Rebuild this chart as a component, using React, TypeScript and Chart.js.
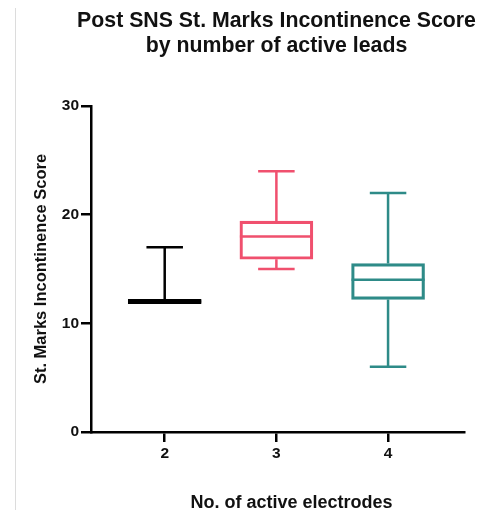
import React, { useEffect, useRef } from "react";
import { Chart, registerables } from "chart.js";

Chart.register(...registerables);

const titleLines = ["Post SNS St. Marks Incontinence Score", "by number of active leads"];
const xAxisTitle = "No. of active electrodes";
const yAxisTitle = "St. Marks Incontinence Score";
const categories = ["2", "3", "4"];
const mins = [12, 15, 6];
const q1s = [11.8, 15.9, 12.2];
const medians = [12, 18, 14];
const q3s = [12.2, 19.4, 15.5];
const maxs = [17, 24, 22];
const yTicks = [0, 10, 20, 30];
const colors = ["#000000", "#F0506E", "#2E8B88"];

const FONT = '"Liberation Sans", Arial, sans-serif';

const boxPlotPlugin = {
  id: "boxWhiskers",
  afterDatasetsDraw(chart: any) {
    const meta = chart.getDatasetMeta(0);
    const y = chart.scales.y;
    const ctx = chart.ctx;
    ctx.save();
    ctx.lineWidth = 2.5;
    ctx.lineCap = "butt";
    meta.data.forEach((el: any, i: number) => {
      const cx = el.x;
      const w = el.width;
      ctx.strokeStyle = colors[i];
      const pMax = y.getPixelForValue(maxs[i]);
      const pMin = y.getPixelForValue(mins[i]);
      const pQ1 = y.getPixelForValue(q1s[i]);
      const pQ3 = y.getPixelForValue(q3s[i]);
      const pMed = y.getPixelForValue(medians[i]);
      ctx.beginPath();
      if (maxs[i] > q3s[i]) {
        ctx.moveTo(cx, pQ3);
        ctx.lineTo(cx, pMax);
        ctx.moveTo(cx - w / 4, pMax);
        ctx.lineTo(cx + w / 4, pMax);
      }
      if (mins[i] < q1s[i] && medians[i] !== mins[i]) {
        ctx.moveTo(cx, pQ1);
        ctx.lineTo(cx, pMin);
        ctx.moveTo(cx - w / 4, pMin);
        ctx.lineTo(cx + w / 4, pMin);
      }
      ctx.moveTo(cx - w / 2, pMed);
      ctx.lineTo(cx + w / 2, pMed);
      ctx.stroke();
    });
    ctx.restore();
  },
  afterDraw(chart: any) {
    const ctx = chart.ctx;
    const area = chart.chartArea;
    ctx.save();
    ctx.strokeStyle = "#dcdcdc";
    ctx.lineWidth = 1;
    ctx.beginPath();
    ctx.moveTo(15.5, 8);
    ctx.lineTo(15.5, 510);
    ctx.stroke();
    ctx.fillStyle = "#111111";
    ctx.textAlign = "center";
    ctx.textBaseline = "middle";
    ctx.font = `bold 21.3px ${FONT}`;
    const cx = (area.left + area.right) / 2 - 1;
    ctx.fillText(titleLines[0], cx, 21);
    ctx.fillText(titleLines[1], cx, 46);
    ctx.font = `bold 18px ${FONT}`;
    ctx.fillText(xAxisTitle, cx + 15, 503);
    ctx.restore();
  },
};

export default function App() {
  const ref = useRef<HTMLCanvasElement>(null);
  useEffect(() => {
    if (!ref.current) return;
    const chart = new Chart(ref.current, {
      type: "bar",
      data: {
        datasets: [
          {
            data: categories.map((c, i) => ({ x: Number(c), y: [q1s[i], q3s[i]] })) as any,
            backgroundColor: "rgba(0,0,0,0)",
            borderColor: colors,
            borderWidth: 2.5,
            borderSkipped: false,
            barThickness: 73,
          },
        ],
      },
      options: {
        animation: false,
        responsive: true,
        maintainAspectRatio: false,
        layout: { padding: { top: 106, right: 18, left: 0, bottom: 0 } },
        plugins: { legend: { display: false }, tooltip: { enabled: false }, title: { display: false } },
        scales: {
          x: {
            type: "linear",
            offset: false,
            min: 1.34,
            max: 4.68,
            afterBuildTicks: (axis: any) => {
              axis.ticks = categories.map((c) => ({ value: Number(c) }));
            },
            afterFit: (scale: any) => {
              scale.height = 86;
            },
            ticks: {
              color: "#111",
              font: { family: FONT, size: 15.5, weight: "bold" },
              padding: 2,
              callback: (v: any) => String(v),
            },
            grid: { display: true, offset: false, drawOnChartArea: false, drawTicks: true, tickLength: 10, lineWidth: 2.5, color: "#000" },
            border: { display: true, width: 2.5, color: "#000" },
            title: { display: false },
          },
          y: {
            min: 0,
            max: 30,
            afterBuildTicks: (axis: any) => {
              axis.ticks = yTicks.map((v) => ({ value: v }));
            },
            afterFit: (scale: any) => {
              scale.width = 91;
            },
            ticks: {
              color: "#111",
              font: { family: FONT, size: 15.5, weight: "bold" },
              padding: 2,
            },
            grid: { display: true, drawOnChartArea: false, drawTicks: true, tickLength: 10, lineWidth: 2.5, color: "#000" },
            border: { display: true, width: 2.5, color: "#000" },
            title: {
              display: true,
              text: yAxisTitle,
              color: "#111",
              font: { family: FONT, size: 16.5, weight: "bold" },
              padding: { top: 32, bottom: 0 },
            },
          },
        },
      },
      plugins: [boxPlotPlugin],
    });
    return () => chart.destroy();
  }, []);
  return (
    <div style={{ position: "absolute", left: 0, top: 0, width: 482, height: 518, background: "#fff" }}>
      <canvas ref={ref} />
    </div>
  );
}
